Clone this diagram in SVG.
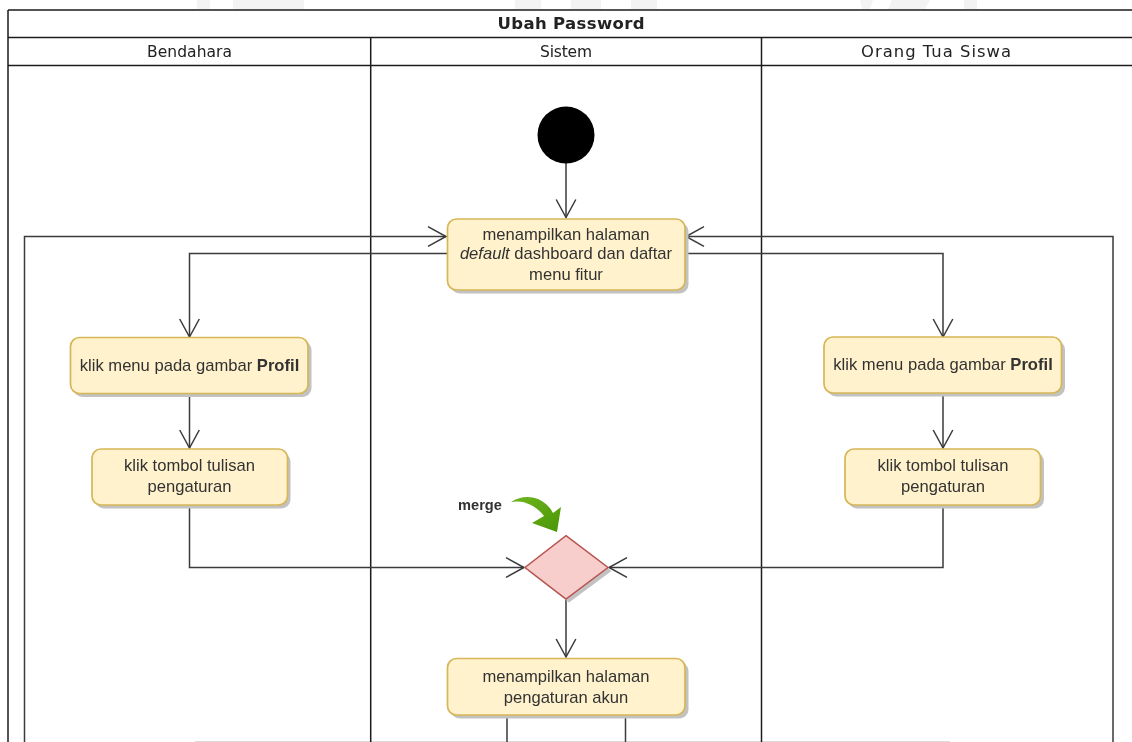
<svg xmlns="http://www.w3.org/2000/svg" width="1132" height="742" viewBox="0 0 1132 742">
<style>
text{font-family:"Liberation Sans",Arial,sans-serif;fill:#333;text-anchor:middle}
.t{font-size:16.6px}
.h{font-size:15.5px;font-family:"DejaVu Sans","Liberation Sans",sans-serif;fill:#222}
.lane{stroke:#1c1c1c;stroke-width:1.5;fill:none}
.c{stroke:#3a3a3a;stroke-width:1.5;fill:none}
.a{fill:#fff2cc;stroke:#d6b656;stroke-width:1.7}
.s{fill:#c2c2c2;stroke:none}
.wm{fill:#f3f3f3}
</style>
<defs>
<marker id="open" markerUnits="userSpaceOnUse" markerWidth="24" markerHeight="24" refX="20" refY="12" orient="auto" viewBox="0 0 24 24">
<path d="M2 2.2L20 12L2 21.8" fill="none" stroke="#3a3a3a" stroke-width="1.5"/>
</marker>
<linearGradient id="g" x1="0" y1="0" x2="1" y2="1"><stop offset="0" stop-color="#6fb51f"/><stop offset="1" stop-color="#4a9606"/></linearGradient>
<filter id="soft" filterUnits="userSpaceOnUse" x="0" y="0" width="1132" height="742"><feGaussianBlur stdDeviation="0.35"/></filter>
</defs>
<rect width="1132" height="742" fill="#fff"/>
<g filter="url(#soft)">
<g id="watermark">
<rect class="wm" x="197" y="0" width="13" height="9"/>
<rect class="wm" x="233" y="0" width="71" height="9"/>
<rect class="wm" x="515" y="0" width="26" height="9"/>
<rect class="wm" x="571" y="0" width="30" height="9"/>
<rect class="wm" x="631" y="0" width="26" height="9"/>
<path class="wm" d="M860 0H873L870 9H862ZM892 0H930L925 9H888ZM964 0H977V9H964Z"/>
<rect x="195" y="741" width="755" height="1" style="fill:#dcdcdc"/>
</g>
<g id="swimlanes">
<path class="lane" d="M8 10H1132M8 37.5H1132M8 65.5H1132M8 10V742M370.7 37.5V742M761.5 37.5V742"/>
<text x="571" y="29" class="h" textLength="147" style="font-weight:bold;font-size:16.5px">Ubah Password</text>
<text x="189.5" y="57" class="h" textLength="85">Bendahara</text>
<text x="566" y="57" class="h" textLength="52">Sistem</text>
<text x="936" y="57" class="h" textLength="150" style="font-size:16.4px">Orang Tua Siswa</text>
</g>
<g id="connectors">
<path class="c" d="M24.5 742V236.5H446" marker-end="url(#open)"/>
<path class="c" d="M1113 742V236.5H686" marker-end="url(#open)"/>
<path class="c" d="M447 253.5H189.5V337" marker-end="url(#open)"/>
<path class="c" d="M685 253.5H943V337" marker-end="url(#open)"/>
<path class="c" d="M566 163V217.5" marker-end="url(#open)"/>
<path class="c" d="M189.5 393V448" marker-end="url(#open)"/>
<path class="c" d="M943 393V448" marker-end="url(#open)"/>
<path class="c" d="M189.5 505V567.5H524" marker-end="url(#open)"/>
<path class="c" d="M943 505V567.5H609" marker-end="url(#open)"/>
<path class="c" d="M566 599V657" marker-end="url(#open)"/>
<path class="c" d="M507 716V742M625.5 716V742"/>
</g>
<g id="start"><circle cx="566" cy="135" r="28.5" fill="#000"/></g>
<g id="n-dashboard">
<rect class="s" x="450.5" y="222.5" width="238" height="71" rx="9"/>
<rect class="a" x="447.5" y="219" width="237.5" height="71" rx="9"/>
<text class="t" x="566" y="239.5">menampilkan halaman</text>
<text class="t" x="566" y="259"><tspan font-style="italic">default</tspan> dashboard dan daftar</text>
<text class="t" x="566" y="279.5">menu fitur</text>
</g>
<g id="n-profil-b">
<rect class="s" x="73.5" y="341" width="238" height="56" rx="9"/>
<rect class="a" x="70.5" y="337.5" width="237.5" height="56" rx="9"/>
<text class="t" x="189.5" y="370.5">klik menu pada gambar <tspan font-weight="bold">Profil</tspan></text>
</g>
<g id="n-tombol-b">
<rect class="s" x="95" y="452.5" width="195.5" height="56" rx="9"/>
<rect class="a" x="92" y="449" width="195.5" height="56" rx="9"/>
<text class="t" x="189.5" y="471">klik tombol tulisan</text>
<text class="t" x="189.5" y="492">pengaturan</text>
</g>
<g id="n-profil-o">
<rect class="s" x="827" y="340.5" width="238" height="56" rx="9"/>
<rect class="a" x="824" y="337" width="237.5" height="56" rx="9"/>
<text class="t" x="943" y="370">klik menu pada gambar <tspan font-weight="bold">Profil</tspan></text>
</g>
<g id="n-tombol-o">
<rect class="s" x="848" y="452.5" width="196" height="56" rx="9"/>
<rect class="a" x="845" y="449" width="195.5" height="56" rx="9"/>
<text class="t" x="943" y="471">klik tombol tulisan</text>
<text class="t" x="943" y="492">pengaturan</text>
</g>
<g id="merge">
<path class="s" d="M569 539.5L611.5 571L569 602.5L528 571Z"/>
<path d="M566 535.7L608 567.5L566 599L525 567.5Z" fill="#f8cecc" stroke="#b85450" stroke-width="1.5"/>
</g>
<g id="merge-label">
<text x="480" y="510" style="font-size:14.6px;font-weight:bold">merge</text>
<path d="M511 502C520 496 530 496 538 499C545 502 550 507 553 513L561 507L557 532L532 523L544 516C538 508 526 499 511 502Z" fill="url(#g)"/>
</g>
<g id="n-akun">
<rect class="s" x="450.5" y="662" width="238" height="56.5" rx="9"/>
<rect class="a" x="447.5" y="658.5" width="237.5" height="56.5" rx="9"/>
<text class="t" x="566" y="682">menampilkan halaman</text>
<text class="t" x="566" y="703">pengaturan akun</text>
</g>
</g>
</svg>
